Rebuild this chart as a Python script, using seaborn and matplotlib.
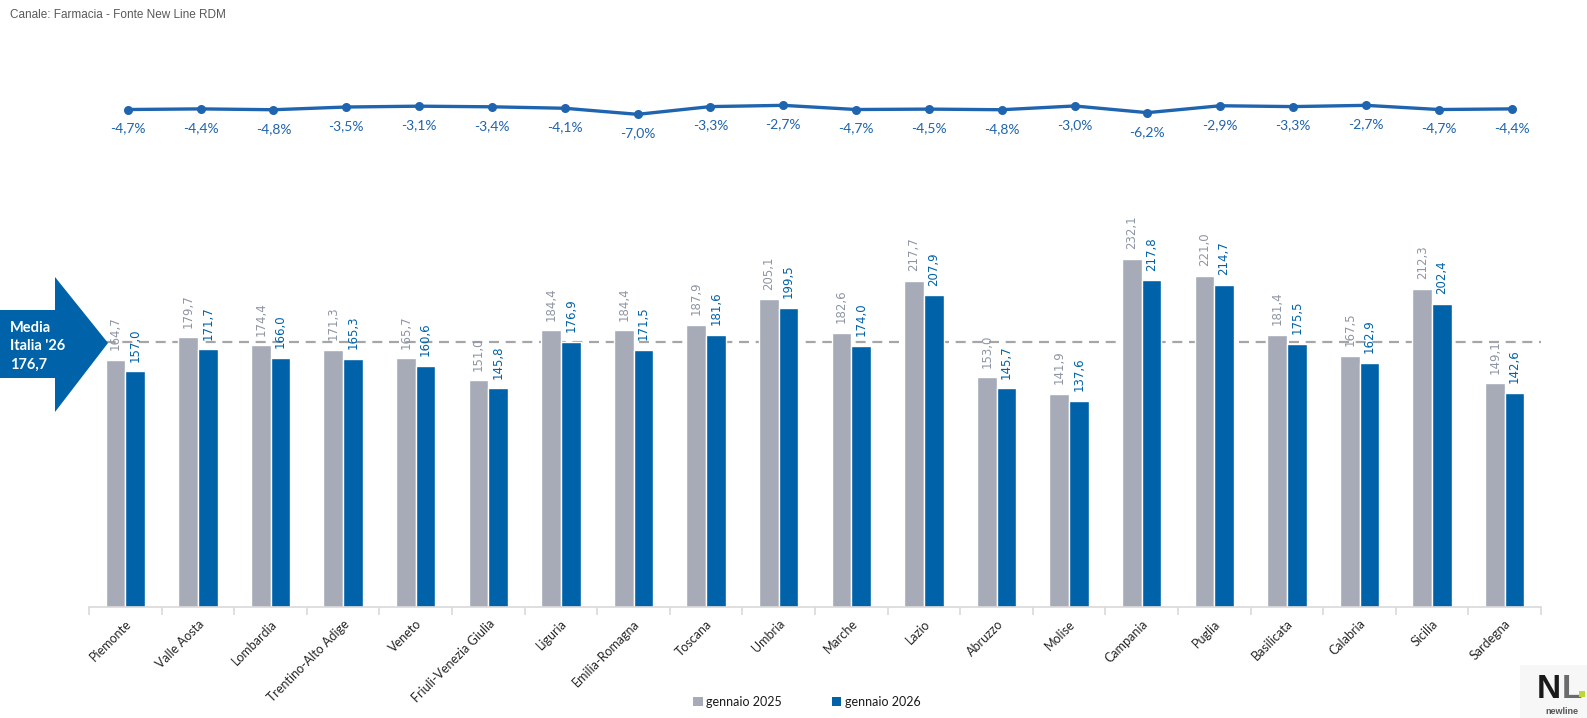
import numpy as np
import pandas as pd
import matplotlib
matplotlib.use("Agg")
import matplotlib.pyplot as plt
from matplotlib.patches import Polygon, Patch, Rectangle
from matplotlib.ticker import FixedLocator
import seaborn as sns

# ---------------- data ----------------
regioni = ["Piemonte", "Valle Aosta", "Lombardia", "Trentino-Alto Adige", "Veneto",
           "Friuli-Venezia Giulia", "Liguria", "Emilia-Romagna", "Toscana", "Umbria",
           "Marche", "Lazio", "Abruzzo", "Molise", "Campania", "Puglia", "Basilicata",
           "Calabria", "Sicilia", "Sardegna"]
gen_2025 = [164.7, 179.7, 174.4, 171.3, 165.7, 151.0, 184.4, 184.4, 187.9, 205.1,
            182.6, 217.7, 153.0, 141.9, 232.1, 221.0, 181.4, 167.5, 212.3, 149.1]
gen_2026 = [157.0, 171.7, 166.0, 165.3, 160.6, 145.8, 176.9, 171.5, 181.6, 199.5,
            174.0, 207.9, 145.7, 137.6, 217.8, 214.7, 175.5, 162.9, 202.4, 142.6]
var_pct = [-4.7, -4.4, -4.8, -3.5, -3.1, -3.4, -4.1, -7.0, -3.3, -2.7,
           -4.7, -4.5, -4.8, -3.0, -6.2, -2.9, -3.3, -2.7, -4.7, -4.4]
anni = ["gennaio 2025", "gennaio 2026"]
media_italia = 176.7
titolo = "Canale: Farmacia - Fonte New Line RDM"

# ---------------- style ----------------
GRAY = "#A6ABB7"
BLUE = "#0062A8"
GRAY_TXT = "#8E95A3"
BLUE_TXT = "#0062A8"
LINE = "#1F64AE"

sns.set_theme(style="white")
plt.rcParams["font.family"] = ["Lato", "DejaVu Sans"]

W, H = 1587, 718
fig = plt.figure(figsize=(W / 100, H / 100), dpi=100)

def fx(px):
    return px / W

def fy(py):
    return 1 - py / H

# ---------------- bars ----------------
base_px, scale = 606.5, 1.497
ymax = 250
top_px = base_px - ymax * scale
ax = fig.add_axes([fx(89), fy(base_px), fx(1541) - fx(89), (base_px - top_px) / H])

df = pd.DataFrame({
    "regione": regioni * 2,
    "valore": gen_2025 + gen_2026,
    "anno": [anni[0]] * len(regioni) + [anni[1]] * len(regioni),
})
sns.barplot(data=df, x="regione", y="valore", hue="anno", order=regioni,
            hue_order=anni, palette=[GRAY, BLUE], width=0.54, gap=0,
            saturation=1, legend=False, ax=ax, errorbar=None)

ax.set_ylim(0, ymax)
ax.set_xlim(-0.5, len(regioni) - 0.5)
ax.set_xlabel("")
ax.set_ylabel("")
ax.set_yticks([])
for s in ["top", "right", "left"]:
    ax.spines[s].set_visible(False)
ax.spines["bottom"].set_color("#D9D9D9")
ax.spines["bottom"].set_linewidth(1.2)

fmt = lambda v: f"{v:.1f}".replace(".", ",")
for cont, vals, col in zip(ax.containers, [gen_2025, gen_2026], [GRAY_TXT, BLUE_TXT]):
    ax.bar_label(cont, labels=[fmt(v) for v in vals], padding=7, rotation=90,
                 color=col, fontsize=8.5, family="DejaVu Sans")

ax.axhline(media_italia, color="#A6A6A6", lw=1.6, ls=(0, (4.5, 3)), zorder=0.5)

ax.set_xticks(range(len(regioni)))
ax.set_xticklabels(regioni, rotation=45, ha="right", rotation_mode="anchor",
                   fontsize=9, color="#262626")
ax.tick_params(axis="x", which="major", length=0, pad=8)
ax.xaxis.set_minor_locator(FixedLocator(np.arange(-0.5, len(regioni), 1.0)))
ax.tick_params(axis="x", which="minor", length=6, width=1.2, color="#D9D9D9",
               direction="out", bottom=True)

# ---------------- line on top ----------------
zero_px, lscale = 99.7, 2.09
lmin = -20
lax = fig.add_axes([fx(91.3), fy(zero_px - lmin * lscale), fx(1548) - fx(91.3),
                    (-lmin * lscale) / H])
idx = np.arange(len(regioni))
sns.lineplot(x=idx, y=var_pct, ax=lax, color=LINE, lw=2.4, marker="o",
             markersize=6.5, markeredgewidth=0)
lax.set_ylim(lmin, 0)
lax.set_xlim(-0.5, len(regioni) - 0.5)
lax.axis("off")
for i, v in zip(idx, var_pct):
    lax.annotate(f"{v:.1f}%".replace(".", ","), (i, v), xytext=(0, -13.7),
                 textcoords="offset points", ha="center", va="center",
                 color=LINE, fontsize=10)

# ---------------- title ----------------
fig.text(fx(10), fy(15), titolo, ha="left", va="center", fontsize=8.5,
         color="#595959", family="Liberation Sans")

# ---------------- arrow ----------------
pts = [(0, 310), (55, 310), (55, 277), (108, 343), (55, 412), (55, 378), (0, 378)]
arrow = Polygon([(fx(x), fy(y)) for x, y in pts], closed=True,
                transform=fig.transFigure, facecolor=BLUE, edgecolor="none", zorder=5)
fig.patches.append(arrow)
for txt, y in [("Media", 327.5), ("Italia '26", 346), ("176,7", 365)]:
    fig.text(fx(10), fy(y), txt, ha="left", va="center", fontsize=10.5,
             fontweight="bold", color="white", zorder=6)

# ---------------- legend ----------------
handles = [Patch(facecolor=GRAY, edgecolor="none"), Patch(facecolor=BLUE, edgecolor="none")]
fig.legend(handles, anni, loc="center", bbox_to_anchor=(fx(807), fy(702)), ncol=2,
           frameon=False, fontsize=9, handlelength=0.75, handleheight=0.75,
           handletextpad=0.3, columnspacing=4.0, labelcolor="#1A1A1A")

# ---------------- logo ----------------
logo_font = ["Liberation Sans Narrow", "Liberation Sans"]
fig.patches.append(Rectangle((fx(1520), fy(718)), fx(67), 53 / H, transform=fig.transFigure,
                             facecolor="#F7F7F7", edgecolor="none", zorder=1))
fig.text(fx(1561), fy(705.5), "N", ha="right", va="bottom", fontsize=24, fontweight="bold",
         color="#1A1A1A", family=logo_font, zorder=2)
fig.text(fx(1562), fy(705.5), "L", ha="left", va="bottom", fontsize=24, fontweight="bold",
         color="#6B6B6B", family=logo_font, zorder=2)
fig.patches.append(Rectangle((fx(1579), fy(697)), fx(6), 6 / H, transform=fig.transFigure,
                             facecolor="#BFD730", edgecolor="none", zorder=3))
fig.text(fx(1561.5), fy(707), "newline", ha="center", va="top", fontsize=6.5,
         fontweight="bold", color="#555555", family=logo_font, zorder=2)

fig.savefig("out.png", dpi=100)
